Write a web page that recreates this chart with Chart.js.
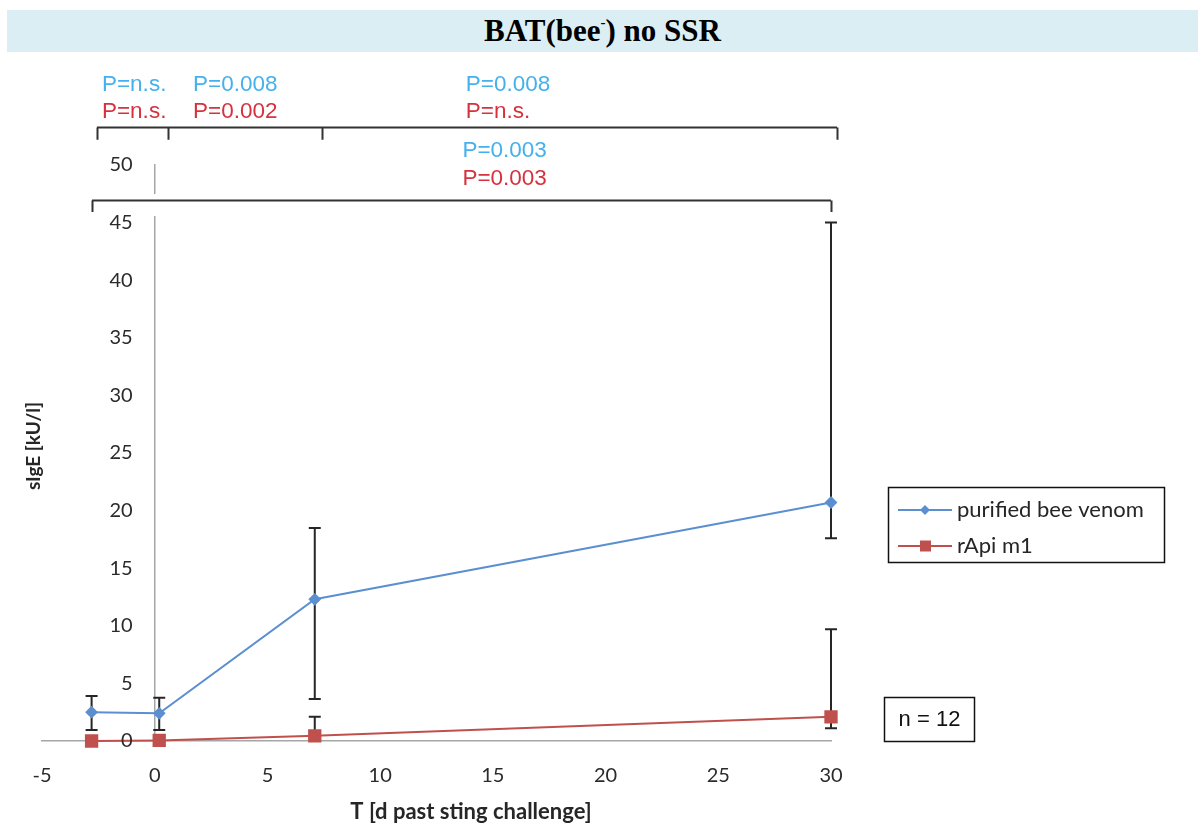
<!DOCTYPE html>
<html>
<head>
<meta charset="utf-8">
<script src="https://cdn.jsdelivr.net/npm/chart.js@4"></script>
<style>
  html, body { margin: 0; padding: 0; background: #fff; }
  #wrap { position: relative; width: 1204px; height: 826px; }
  canvas { position: absolute; left: 0; top: 0; }
  #band {
    position: absolute; left: 7px; top: 10px; width: 1191px; height: 42px;
    background: #dbeef4; text-align: center; color: #000;
    font: bold 31px "Liberation Serif", "Times New Roman", serif; line-height: 42px;
  }
  #band sup { font-size: 15px; line-height: 0; vertical-align: 14px; }
</style>
</head>
<body>
<div id="wrap">
  <canvas id="c" width="1204" height="826" style="width:1204px;height:826px"></canvas>
  <div id="band">BAT(bee<sup>-</sup>) no SSR</div>
</div>
<script>
// Days relative to the sting challenge
const timepoints = [-2.8, 0.2, 7.1, 30];

// sIgE (kU/l), means with lower/upper error limits
const beeVenom     = [2.5, 2.4, 12.3, 20.7];
const beeVenomLow  = [0.95, 0.95, 3.65, 17.6];
const beeVenomHigh = [3.9, 3.75, 18.5, 45.0];

const rApiM1     = [0, 0.05, 0.45, 2.1];
const rApiM1Low  = [null, null, null, 1.1];
const rApiM1High = [null, null, 2.1, 9.7];

const seriesNames = ['purified bee venom', 'rApi m1'];
const seriesColors = ['#5b8fd0', '#c0504d'];

// Significance brackets: span ends, inner tick positions (x), bar height (y)
const bracketRows = [
  { xs: [-2.56, 0.59, 7.42, 30.27], y: 53.3, drop: 1.1 },
  { xs: [-2.78, 30.0], y: 46.96, drop: 1.05 }
];
// P-value labels (x, y in axis units)
const pLabelText  = ['P=n.s.', 'P=0.008', 'P=0.008', 'P=n.s.', 'P=0.002', 'P=n.s.', 'P=0.003', 'P=0.003'];
const pLabelX     = [-2.34, 1.7, 13.8, -2.34, 1.7, 13.8, 13.65, 13.65];
const pLabelY     = [57.0, 57.0, 57.0, 54.6, 54.6, 54.6, 51.2, 48.8];
const pLabelColor = ['#45b1ec', '#45b1ec', '#45b1ec', '#d6323e', '#d6323e', '#d6323e', '#45b1ec', '#d6323e'];

const toPoints = (ys) => timepoints.map((t, i) => ({ x: t, y: ys[i] }));

const errorBarPlugin = {
  id: 'errorBars',
  beforeDatasetsDraw(chart) {
    const { ctx, scales: { x, y } } = chart;
    const sets = [[beeVenomLow, beeVenomHigh], [rApiM1Low, rApiM1High]];
    ctx.save();
    ctx.strokeStyle = '#262626';
    ctx.lineWidth = 2;
    sets.forEach(([lo, hi], s) => {
      const mean = s === 0 ? beeVenom : rApiM1;
      timepoints.forEach((t, i) => {
        const px = x.getPixelForValue(t);
        const cap = 6;
        [lo[i], hi[i]].forEach(v => {
          if (v === null) return;
          const py = y.getPixelForValue(v);
          const pm = y.getPixelForValue(mean[i]);
          ctx.beginPath();
          ctx.moveTo(px, pm); ctx.lineTo(px, py);
          ctx.moveTo(px - cap, py); ctx.lineTo(px + cap, py);
          ctx.stroke();
        });
      });
    });
    ctx.restore();
  }
};

// Value labels for the vertical axis, which crosses the time axis at day 0
const yLabelPlugin = {
  id: 'yLabels',
  afterDatasetsDraw(chart) {
    const { ctx, scales: { x, y } } = chart;
    const ax = x.getPixelForValue(0);
    ctx.save();
    ctx.fillStyle = '#2b2b2b';
    ctx.font = '20px Lato, sans-serif';
    ctx.textAlign = 'right';
    ctx.textBaseline = 'middle';
    y.ticks.forEach(t => {
      ctx.fillText(String(t.value), ax - 22, y.getPixelForValue(t.value));
    });
    ctx.restore();
  }
};

const decorPlugin = {
  id: 'decor',
  afterDraw(chart) {
    const { ctx, scales: { x, y } } = chart;
    ctx.save();

    // break in the vertical axis where the lower bracket crosses it
    const ax = x.getPixelForValue(0);
    const by = y.getPixelForValue(bracketRows[1].y);
    ctx.fillStyle = '#fff';
    ctx.fillRect(ax - 3, by - 6, 6, 22);

    // brackets
    ctx.strokeStyle = '#333';
    ctx.lineWidth = 2;
    bracketRows.forEach(b => {
      const yy = Math.round(y.getPixelForValue(b.y)) + 0.5;
      const yd = y.getPixelForValue(b.y - b.drop);
      ctx.beginPath();
      ctx.moveTo(x.getPixelForValue(b.xs[0]), yy);
      ctx.lineTo(x.getPixelForValue(b.xs[b.xs.length - 1]), yy);
      b.xs.forEach(v => {
        const px = Math.round(x.getPixelForValue(v)) + 0.5;
        ctx.moveTo(px, yy); ctx.lineTo(px, yd);
      });
      ctx.stroke();
    });

    // P-values
    ctx.font = '22.5px "Liberation Sans", Arial, sans-serif';
    ctx.textAlign = 'left';
    ctx.textBaseline = 'middle';
    pLabelText.forEach((t, i) => {
      ctx.fillStyle = pLabelColor[i];
      ctx.fillText(t, x.getPixelForValue(pLabelX[i]), y.getPixelForValue(pLabelY[i]));
    });

    // axis titles
    ctx.fillStyle = '#262626';
    ctx.font = 'bold 22px Lato, sans-serif';
    ctx.textAlign = 'center';
    ctx.fillText('T [d past sting challenge]', 471, 812);
    ctx.save();
    ctx.translate(34, 446);
    ctx.rotate(-Math.PI / 2);
    ctx.font = 'bold 19px Lato, sans-serif';
    ctx.fillText('sIgE [kU/l]', 0, 0);
    ctx.restore();

    // legend
    ctx.strokeStyle = '#111';
    ctx.lineWidth = 1.5;
    ctx.strokeRect(888.5, 487.5, 276, 75);
    const rows = [510, 546];
    rows.forEach((ry, i) => {
      ctx.strokeStyle = seriesColors[i];
      ctx.lineWidth = 2;
      ctx.beginPath(); ctx.moveTo(898, ry); ctx.lineTo(952, ry); ctx.stroke();
      ctx.fillStyle = seriesColors[i];
      if (i === 0) {
        ctx.beginPath();
        ctx.moveTo(925, ry - 5); ctx.lineTo(930, ry); ctx.lineTo(925, ry + 5); ctx.lineTo(920, ry);
        ctx.closePath(); ctx.fill();
      } else {
        ctx.fillRect(920, ry - 5.5, 11, 11);
      }
      ctx.fillStyle = '#262626';
      ctx.font = '22px Lato, sans-serif';
      ctx.textAlign = 'left';
      ctx.fillText(seriesNames[i], 957, ry);
    });

    // sample size box
    ctx.strokeStyle = '#111';
    ctx.lineWidth = 1.5;
    ctx.strokeRect(884.5, 697.5, 90, 44);
    ctx.fillStyle = '#111';
    ctx.font = '22px "Liberation Sans", Arial, sans-serif';
    ctx.textAlign = 'center';
    ctx.fillText('n = 12', 929.5, 720);

    ctx.restore();
  }
};

new Chart(document.getElementById('c'), {
  type: 'line',
  data: {
    datasets: [
      {
        label: seriesNames[0],
        data: toPoints(beeVenom),
        borderColor: seriesColors[0],
        backgroundColor: seriesColors[0],
        borderWidth: 2,
        pointStyle: 'rectRot',
        pointRadius: 5,
        pointHoverRadius: 5,
        tension: 0,
        clip: false
      },
      {
        label: seriesNames[1],
        data: toPoints(rApiM1),
        borderColor: seriesColors[1],
        backgroundColor: seriesColors[1],
        borderWidth: 2,
        pointStyle: 'rect',
        pointRadius: 8,
        pointHoverRadius: 8,
        tension: 0,
        clip: false
      }
    ]
  },
  options: {
    responsive: false,
    animation: false,
    events: [],
    layout: { padding: { left: 42, right: 373, top: 165, bottom: 0 } },
    plugins: { legend: { display: false }, tooltip: { enabled: false }, title: { display: false } },
    scales: {
      x: {
        type: 'linear',
        min: -5, max: 30,
        position: 'bottom',
        afterFit(scale) { scale.height = 85; },
        grid: { display: false, drawTicks: false },
        border: { display: true, color: '#a6a6a6', width: 1.5 },
        ticks: { stepSize: 5, padding: 23, color: '#2b2b2b', font: { family: 'Lato', size: 20 } }
      },
      y: {
        type: 'linear',
        min: 0, max: 50,
        position: { x: 0 },
        grid: { display: false, drawTicks: false },
        border: { display: true, color: '#a6a6a6', width: 1.5 },
        ticks: { stepSize: 5, display: false }
      }
    }
  },
  plugins: [errorBarPlugin, yLabelPlugin, decorPlugin]
});
</script>
</body>
</html>
